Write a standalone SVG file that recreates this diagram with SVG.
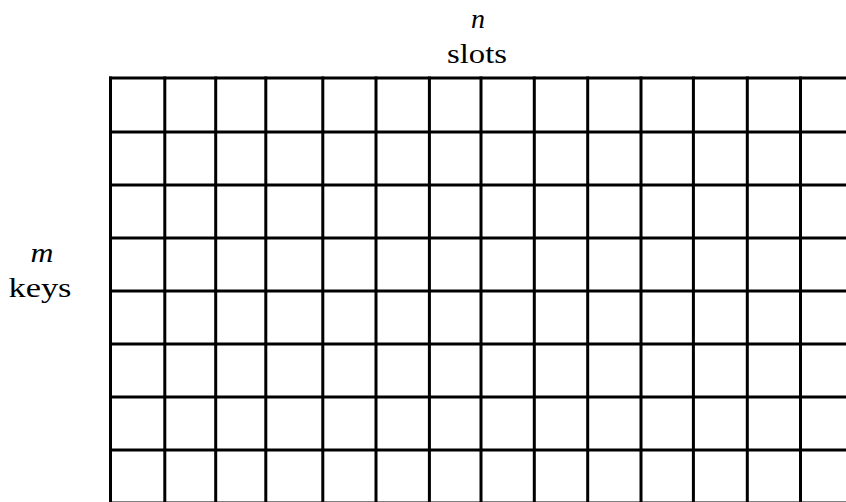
<svg xmlns="http://www.w3.org/2000/svg" width="846" height="502" viewBox="0 0 846 502">
<style>
.g{stroke:#000;stroke-width:3;fill:none;stroke-linecap:square}
.t{font-size:28px;fill:#000;text-anchor:middle;font-family:'Liberation Serif','DejaVu Serif',serif}
.i{font-style:italic}
</style>
<rect width="846" height="502" fill="#fff"/>
<g id="labels">
<text class="t i" x="478" y="28">n</text>
<text class="t" x="477" y="63" textLength="60" lengthAdjust="spacingAndGlyphs">slots</text>
<text class="t i" x="42" y="262" textLength="23" lengthAdjust="spacingAndGlyphs">m</text>
<text class="t" x="40" y="297" textLength="63" lengthAdjust="spacingAndGlyphs">keys</text>
</g>
<g id="grid" class="g">
<path d="M110.5 78V505M164.8 78V505M215.7 78V505M265.8 78V505M322.8 78V505M376 78V505M429.4 78V505M481 78V505M534.3 78V505M587.7 78V505M641 78V505M693.4 78V505M747.3 78V505M800.5 78V505"/>
<path d="M110.5 78H850M110.5 132H850M110.5 185H850M110.5 238H850M110.5 291H850M110.5 344H850M110.5 397H850M110.5 450H850M110.5 503H850"/>
</g>
</svg>
